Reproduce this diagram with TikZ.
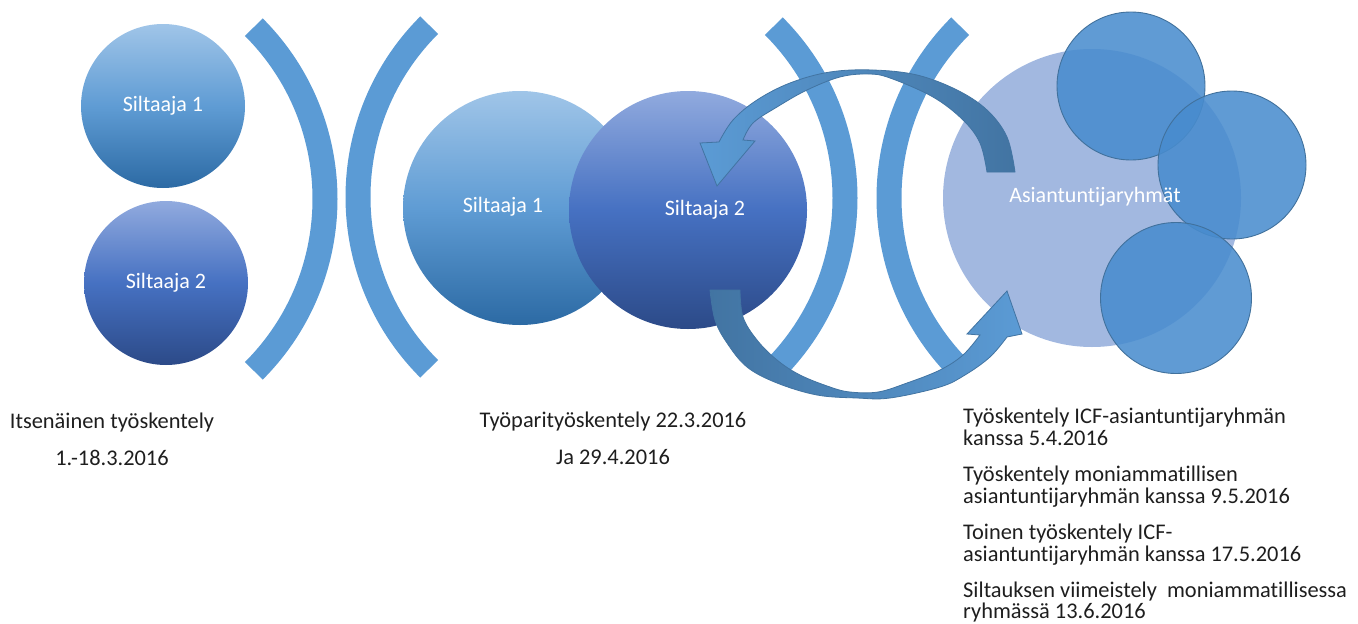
\documentclass[tikz,border=0pt]{standalone}
\usepackage{fontspec}
\setmainfont{Carlito}[Ligatures=NoCommon]
\definecolor{arcblue}{RGB}{91,155,213}
\definecolor{arrowdark}{RGB}{66,116,162}
\definecolor{arrowlight}{RGB}{91,155,213}
\definecolor{oneTop}{RGB}{160,197,232}
\definecolor{oneMid}{RGB}{95,156,212}
\definecolor{oneBot}{RGB}{44,106,164}
\definecolor{twoTop}{RGB}{145,170,222}
\definecolor{twoMid}{RGB}{70,113,194}
\definecolor{twoBot}{RGB}{44,74,136}
\definecolor{groupfill}{RGB}{162,184,224}
\definecolor{subfill}{RGB}{72,140,206}
\definecolor{subline}{RGB}{65,113,156}
\definecolor{textgrey}{RGB}{30,30,30}
\begin{document}
\begin{tikzpicture}[x=1pt,y=1pt,
  bridge/.style={draw=arcblue,line width=25pt,line cap=butt},
  personone/.style={circle,inner sep=0pt,top color=oneTop,bottom color=oneBot,middle color=oneMid},
  persontwo/.style={circle,inner sep=0pt,top color=twoTop,bottom color=twoBot,middle color=twoMid},
  subgroup/.style={circle,inner sep=0pt,minimum size=148pt,fill=subfill,fill opacity=0.87,draw=subline,line width=0.9pt},
  whitelabel/.style={text=white,font=\fontsize{22}{26}\selectfont,inner sep=0pt},
  caption/.style={text=textgrey,font=\fontsize{22.4}{36.5}\selectfont,inner sep=0pt},
  note/.style={text=textgrey,font=\fontsize{22.4}{24}\selectfont,inner sep=0pt,anchor=base west},
  looparrow/.style={draw=arrowdark,line width=0.8pt}]
\useasboundingbox (0,0) rectangle (1358,-624);

% bridge brackets
\draw[bridge] ([shift={(82,-199)}]-45:243) arc (-45:45:243);
\draw[bridge] ([shift={(601,-197)}]135:243) arc (135:225:243);
\draw[bridge] ([shift={(602,-198)}]-45:243) arc (-45:45:243);
\draw[bridge] ([shift={(1132,-198)}]135:243) arc (135:225:243);

% independent work
\node[personone,minimum size=164pt,whitelabel] (a1) at (163,-106) {Siltaaja 1};
\node[persontwo,minimum size=164pt,whitelabel] (a2) at (166,-283) {Siltaaja 2};

% pair work
\node[personone,minimum size=234pt] (b1) at (520,-208) {};
\node[persontwo,minimum size=238pt] (b2) at (688,-210) {};
\node[whitelabel] (b1t) at (503,-207) {Siltaaja 1};
\node[whitelabel] (b2t) at (705,-210) {Siltaaja 2};

% expert groups
\node[circle,inner sep=0pt,minimum size=298pt,fill=groupfill] (grp) at (1092,-198) {};
\node[subgroup] (g1) at (1131,-86) {};
\node[subgroup] (g2) at (1232,-165) {};
\node[subgroup,minimum size=151pt] (g3) at (1176,-298) {};

% returning arrow (upper)
\shade[looparrow,left color=arrowlight,right color=arrowdark]
  plot[smooth,tension=0.6] coordinates {(1015,-172) (1007,-137) (987,-110) (957,-90) (917,-75) (873,-70) (830,-72) (790,-83) (757,-100) (733,-120) (719,-142)}
  -- (700,-143) -- (717,-186) -- (755,-141) -- (743,-140)
  -- plot[smooth,tension=0.6] coordinates {(743,-140) (753,-123) (777,-107) (807,-90) (840,-77) (868,-74) (890,-78) (933,-97) (963,-120) (980,-143) (987,-172)}
  -- cycle;

% outgoing arrow (lower)
\shade[looparrow,left color=arrowdark,right color=arrowlight]
  plot[smooth,tension=0.6] coordinates {(710,-290) (715,-320) (727,-343) (747,-367) (777,-383) (817,-395) (857,-398) (890,-398) (940,-387) (965,-375) (990,-357) (1007,-337)}
  -- (1022,-334) -- (1007,-291) -- (967,-334) -- (980,-335)
  -- plot[smooth,tension=0.6] coordinates {(980,-335) (963,-355) (940,-370) (907,-383) (878,-392) (850,-392) (830,-387) (800,-375) (777,-360) (757,-340) (743,-317) (740,-290)}
  -- cycle;

\node[whitelabel] (grpt) at (1095,-197) {Asiantuntijaryhmät};

% captions (anchored on the baseline of their last line)
\node[caption,align=center,anchor=base] (c1) at (112,-465) {Itsenäinen työskentely\\1.-18.3.2016};
\node[caption,align=center,anchor=base] (c2) at (613,-464) {Työparityöskentely 22.3.2016\\Ja 29.4.2016};

\node[note] (n1) at (963,-423) {Työskentely ICF-asiantuntijaryhmän};
\node[note] (n2) at (963,-445.5) {kanssa 5.4.2016};
\node[note] (n3) at (963,-481) {Työskentely moniammatillisen};
\node[note] (n4) at (963,-503.5) {asiantuntijaryhmän kanssa 9.5.2016};
\node[note] (n5) at (963,-539) {Toinen työskentely ICF-};
\node[note] (n6) at (963,-561.5) {asiantuntijaryhmän kanssa 17.5.2016};
\node[note] (n7) at (963,-597) {Siltauksen viimeistely\ \ moniammatillisessa};
\node[note] (n8) at (963,-618) {ryhmässä 13.6.2016};
\end{tikzpicture}
\end{document}
